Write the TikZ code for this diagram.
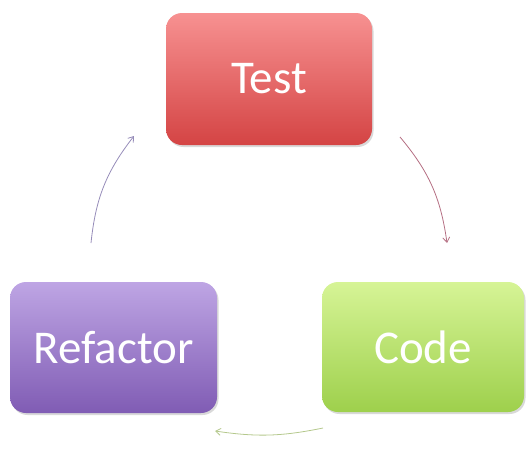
\documentclass[tikz,border=0pt]{standalone}
\usepackage{fontspec}
\setmainfont{Carlito}
\usetikzlibrary{arrows.meta,shadows}
\definecolor{testtop}{RGB}{247,145,145}
\definecolor{testbot}{RGB}{212,68,68}
\definecolor{codetop}{RGB}{214,244,150}
\definecolor{codebot}{RGB}{158,208,76}
\definecolor{reftop}{RGB}{190,165,228}
\definecolor{refbot}{RGB}{128,92,180}
\definecolor{arrA}{RGB}{180,110,130}
\definecolor{arrB}{RGB}{180,200,140}
\definecolor{arrC}{RGB}{150,140,185}
\tikzset{
  stepbox/.style={rounded corners=16pt, minimum width=206pt, minimum height=132pt,
    inner sep=0pt, text=white, font=\fontsize{47}{52}\selectfont,
    drop shadow={shadow xshift=1.5pt, shadow yshift=-2pt, opacity=0.25, fill=black!60}},
  cyc/.style={line width=0.8pt, -{Straight Barb[length=5pt,width=7pt]}}
}
\begin{document}
\begin{tikzpicture}[x=1pt,y=-1pt]
\useasboundingbox (0,0) rectangle (530,450);
\node[stepbox, top color=testtop, bottom color=testbot] (test) at (269,79) {\raisebox{-2pt}{Test}};
\node[stepbox, top color=codetop, bottom color=codebot, minimum width=202pt, minimum height=130pt] (code) at (423,347) {\raisebox{-2pt}{Code}};
\node[stepbox, top color=reftop, bottom color=refbot, minimum width=207pt, minimum height=131pt] (ref) at (113.5,347.5) {\raisebox{-2pt}{Refactor}};
\coordinate (a1) at (400,137);
\coordinate (a2) at (447,243);
\coordinate (b1) at (323,428);
\coordinate (b2) at (215,431);
\coordinate (c1) at (91,243);
\coordinate (c2) at (134,136);
\draw[cyc, arrA] (a1) to[bend left=16] (a2);
\draw[cyc, arrB] (b1) to[bend left=10] (b2);
\draw[cyc, arrC] (c1) to[bend left=16] (c2);
\end{tikzpicture}
\end{document}
